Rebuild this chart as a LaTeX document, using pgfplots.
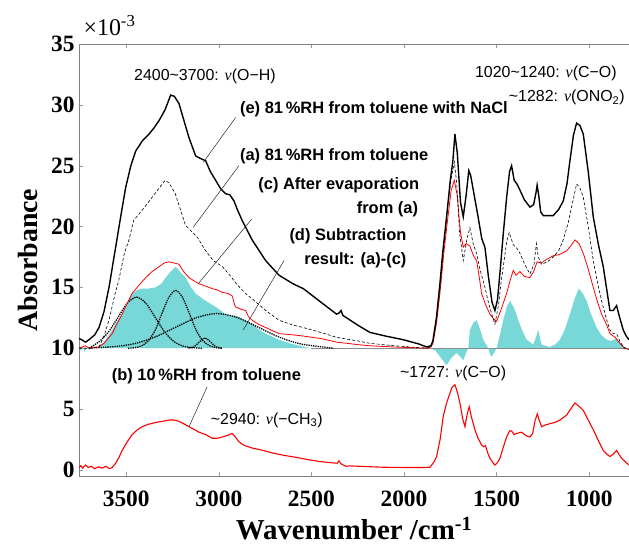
\documentclass[border=0pt]{standalone}
\usepackage{fontspec}
\setmainfont{Liberation Serif}
\newfontfamily\arial{Liberation Sans}
\usepackage{pgfplots}
\pgfplotsset{compat=1.18}
\definecolor{subcyan}{RGB}{120,216,216}
\newcommand{\nuv}{{\rmfamily\itshape ν}}

\begin{document}
\begin{tikzpicture}[
  annot/.style={font=\arial\fontsize{16}{18}\selectfont, inner sep=0pt},
  bannot/.style={font=\arial\fontsize{16.5}{18}\selectfont\bfseries, inner sep=0pt},
  leader/.style={black!85, line width=0.5pt},
]
\begin{axis}[
  scale only axis,
  width=550bp, height=432bp,
  x dir=reverse,
  xmin=785, xmax=3755,
  ymin=-0.5, ymax=35,
  xtick={1000,1500,...,3500},
  ytick={0,5,...,35},
  /pgf/number format/1000 sep={},
  /pgf/number format/assume math mode=true,
  axis x line*=box, axis y line*=left,
  axis line style={-, black!50},
  tick align=inside,
  major tick length=4bp,
  tick style={black!40},
  ticklabel style={font=\fontsize{23.5}{25}\selectfont\bfseries},
  xticklabel style={yshift=-11bp},
  yticklabel style={xshift=-1bp},
  xlabel={Wavenumber /cm\textsuperscript{-1}},
  ylabel={Absorbance},
  xlabel style={font=\fontsize{29}{31}\selectfont\bfseries, at={(axis description cs:0.5,-0.148)}, anchor=base},
  ylabel style={font=\fontsize{28}{30}\selectfont\bfseries, at={(axis description cs:-0.093,0.5)}, anchor=center},
  clip mode=individual,
]

% (d) subtraction result (a)-(c), filled to baseline 10
\addplot[fill=subcyan, draw=none] coordinates {
(3755,10.0) (3745,9.8) (3735,10.1) (3725,9.7) (3715,10.0) (3700,9.9) (3680,10.0)
(3650,10.1) (3620,10.5) (3576,11.5) (3550,12.2) (3522,12.8) (3495,13.7) (3468,14.5)
(3440,14.8) (3414,14.9) (3380,14.9) (3341,15.0) (3310,15.3) (3287,15.8) (3260,16.3)
(3233,16.7) (3205,16.2) (3179,15.8) (3150,15.0) (3125,14.5) (3100,14.2) (3071,13.9)
(3040,13.6) (3017,13.4) (2990,13.1) (2963,12.8) (2930,12.7) (2909,12.7) (2870,12.4)
(2820,12.0) (2790,11.6) (2747,11.2) (2675,10.7) (2616,10.4) (2550,10.15) (2500,10.0)
(1860,10.0) (1830,9.8) (1800,9.2) (1770,8.6) (1745,9.2) (1716,9.6) (1695,9.3)
(1680,9.0) (1665,9.6) (1653,10.0) (1644,11.5) (1625,12.1) (1608,12.3) (1590,11.6)
(1572,10.7) (1545,10.0) (1535,9.5) (1527,9.3) (1515,9.6) (1500,10.0) (1480,11.2)
(1464,12.3) (1445,13.4) (1428,13.9) (1405,13.3) (1383,12.3) (1360,11.4) (1338,10.7)
(1302,10.3) (1285,11.0) (1275,11.5) (1265,10.8) (1257,10.3) (1212,10.1) (1185,10.3)
(1158,10.7) (1130,11.6) (1104,12.8) (1080,14.0) (1056,14.9) (1035,14.5) (1014,13.9)
(990,12.8) (960,11.7) (935,11.1) (906,10.7) (880,10.6) (852,10.8) (830,10.4)
(811,10.0) (785,10.0)
} -- cycle;
\addplot[black!45, line width=0.8pt] coordinates {(2500,10) (785,10)};

% fitted gaussian components
\addplot[black, densely dotted, line width=1.3pt, smooth] coordinates {
(3700,10.0) (3644,10.57) (3594,11.37) (3544,12.55) (3494,13.7) (3444,14.2) (3394,13.7)
(3344,12.55) (3294,11.37) (3244,10.57) (3194,10.18) (3144,10.05) (3090,10.0)
};
\addplot[black, densely dotted, line width=1.3pt, smooth] coordinates {
(3490,10.0) (3453,10.05) (3416,10.2) (3379,10.64) (3343,11.5) (3306,12.9) (3269,14.2)
(3233,14.75) (3197,14.2) (3160,12.9) (3123,11.5) (3087,10.64) (3050,10.2) (3013,10.05) (2980,10.0)
};
\addplot[black, densely dotted, line width=1.3pt, smooth] coordinates {
(3165,10.01) (3135,10.11) (3105,10.52) (3075,10.85) (3045,10.52) (3015,10.11) (2985,10.01)
};
\addplot[black, densely dotted, line width=1.3pt, smooth] coordinates {
(3700,10.0) (3676,10.03) (3565,10.13) (3454,10.38) (3343,10.93) (3232,11.73) (3121,12.51)
(3010,12.85) (2899,12.51) (2788,11.73) (2677,10.93) (2566,10.38) (2455,10.13) (2380,10.0)
};

% (c) after evaporation from (a)
\addplot[red, line width=0.8pt] coordinates {
(3755,10.0) (3720,10.2) (3700,10.0) (3650,10.1) (3620,10.4) (3576,11.2) (3550,12.0)
(3522,12.8) (3495,13.7) (3468,14.5) (3430,15.2) (3395,15.8) (3360,16.3) (3323,16.7)
(3295,17.0) (3269,17.1) (3240,17.0) (3215,16.9) (3190,16.3) (3161,15.8) (3130,15.5)
(3107,15.3) (3070,15.1) (3036,14.9) (3010,14.8) (2982,14.6) (2950,14.5) (2928,14.3)
(2915,13.6) (2909,13.4) (2880,13.2) (2855,13.1) (2840,12.6) (2820,12.3) (2790,12.0)
(2747,11.7) (2675,11.2) (2600,11.1) (2544,11.0) (2450,10.8) (2364,10.5) (2250,10.3)
(2184,10.2) (2050,10.1) (1878,10.0) (1855,10.1) (1844,10.4) (1825,12.0) (1806,14.5)
(1785,17.8) (1765,20.5) (1745,23.0) (1728,23.8) (1712,22.5) (1695,19.5) (1680,18.3)
(1665,18.6) (1644,18.4) (1625,17.6) (1608,17.2) (1595,16.0) (1581,14.5) (1560,13.6)
(1536,12.8) (1515,12.4) (1500,12.2) (1475,13.2) (1446,14.5) (1430,15.4) (1410,16.4)
(1395,16.0) (1374,16.3) (1350,15.9) (1320,15.8) (1300,16.3) (1281,17.1) (1260,17.0)
(1230,17.3) (1194,17.6) (1160,17.7) (1122,18.0) (1095,18.5) (1077,18.9) (1055,18.6)
(1032,17.8) (1005,16.5) (978,15.0) (955,13.8) (933,12.8) (905,11.9) (888,11.2)
(860,10.9) (834,10.4) (810,10.0) (785,9.9)
};

% (a) 81 %RH from toluene
\addplot[black, densely dashed, line width=0.6pt] coordinates {
(3755,10.0) (3700,10.0) (3660,10.1) (3647,10.1) (3620,11.0) (3593,12.3) (3560,14.5)
(3540,15.6) (3510,17.8) (3485,18.9) (3460,20.5) (3400,21.6) (3345,22.7) (3290,23.8)
(3270,23.6) (3235,22.7) (3180,20.1) (3140,19.5) (3115,19.1) (3071,18.0) (3030,17.2)
(2980,16.7) (2963,16.4) (2930,15.8) (2900,15.2) (2855,14.5) (2800,13.8) (2747,13.1)
(2675,12.3) (2600,11.9) (2544,11.7) (2450,11.3) (2364,10.9) (2250,10.6) (2184,10.4)
(2050,10.2) (1878,10.0) (1855,10.1) (1844,10.5) (1825,12.3) (1806,15.0) (1785,18.5)
(1765,21.5) (1745,24.0) (1728,25.3) (1715,23.5) (1700,19.5) (1680,17.2) (1660,19.0)
(1644,19.9) (1625,18.5) (1608,17.8) (1590,16.5) (1563,15.0) (1540,13.5) (1520,12.5)
(1509,12.0) (1490,13.5) (1475,15.5) (1464,16.7) (1445,18.8) (1432,19.5) (1410,18.5)
(1390,18.2) (1374,17.8) (1345,16.8) (1320,16.1) (1298,16.9) (1285,18.6) (1275,17.5)
(1257,16.9) (1225,17.1) (1194,17.5) (1165,18.0) (1140,18.9) (1115,20.2) (1095,21.6)
(1068,23.5) (1050,23.2) (1032,22.4) (1005,20.0) (978,17.2) (955,15.4) (933,13.9)
(905,12.3) (888,11.5) (870,11.2) (852,11.2) (835,10.6) (816,10.1) (785,9.9)
};

% (e) 81 %RH from toluene with NaCl
\addplot[black, line width=1.4pt] coordinates {
(3755,10.8) (3741,10.7) (3720,10.5) (3701,10.7) (3670,11.1) (3647,11.7) (3620,13.0)
(3593,15.0) (3557,18.3) (3530,20.8) (3503,23.2) (3475,25.0) (3449,26.2) (3410,27.1)
(3377,27.6) (3350,28.1) (3323,28.7) (3290,29.6) (3260,30.8) (3240,30.7) (3215,30.1)
(3190,28.8) (3161,27.3) (3125,25.8) (3100,25.6) (3071,25.4) (3045,24.5) (3017,23.8)
(2990,23.1) (2963,22.7) (2940,22.6) (2918,22.1) (2900,21.4) (2874,20.5) (2820,18.9)
(2747,17.2) (2675,16.0) (2600,15.3) (2544,14.9) (2450,13.8) (2364,12.8) (2350,12.9)
(2340,13.1) (2330,12.7) (2250,11.9) (2184,11.3) (2100,11.0) (2004,10.7) (1920,10.35)
(1878,10.1) (1855,10.2) (1844,10.6) (1825,12.5) (1806,15.3) (1790,18.0) (1770,20.8)
(1750,23.8) (1736,25.4) (1725,27.6) (1712,26.0) (1695,22.0) (1680,20.8) (1665,22.5)
(1650,24.6) (1640,24.2) (1620,22.5) (1600,20.8) (1580,19.0) (1563,18.3) (1545,16.0)
(1525,13.8) (1509,13.1) (1495,14.0) (1480,16.5) (1464,19.4) (1445,22.5) (1430,24.5)
(1419,25.0) (1405,23.8) (1390,23.5) (1374,23.0) (1350,22.2) (1320,21.6) (1300,21.8)
(1287,22.8) (1281,23.4) (1272,22.5) (1262,21.2) (1248,20.9) (1220,20.9) (1194,20.9)
(1165,21.4) (1140,22.1) (1120,23.5) (1104,25.4) (1085,27.5) (1068,28.5) (1050,28.3)
(1032,27.6) (1005,24.5) (978,20.8) (950,18.5) (924,16.7) (905,14.8) (888,13.1)
(870,13.1) (852,13.5) (835,12.5) (816,11.5) (800,11.0) (785,10.7)
};

% (b) 10 %RH from toluene
\addplot[red, line width=1.1pt] coordinates {
(3755,0.2) (3745,0.35) (3735,0.15) (3720,0.4) (3705,0.2) (3690,0.3) (3670,0.1)
(3650,0.25) (3630,0.15) (3610,0.3) (3590,0.1) (3576,0.2) (3557,0.55) (3540,1.0)
(3522,1.6) (3495,2.3) (3468,2.9) (3440,3.3) (3414,3.55) (3380,3.75) (3341,3.9)
(3300,4.0) (3269,4.1) (3240,4.1) (3215,4.0) (3190,3.8) (3161,3.55) (3130,3.3)
(3107,3.1) (3070,2.9) (3036,2.6) (3010,2.6) (2982,2.7) (2950,2.85) (2928,3.0)
(2910,2.7) (2891,2.3) (2860,2.0) (2820,1.8) (2760,1.6) (2712,1.4) (2650,1.2)
(2585,1.04) (2520,0.85) (2459,0.7) (2400,0.6) (2360,0.55) (2351,0.75) (2340,0.5)
(2315,0.3) (2292,0.33) (2200,0.27) (2112,0.22) (2000,0.2) (1900,0.2) (1860,0.22)
(1840,0.6) (1824,1.1) (1805,2.5) (1788,4.4) (1770,5.5) (1752,6.3) (1740,6.8)
(1725,7.0) (1712,6.4) (1698,5.5) (1683,4.2) (1671,3.55) (1660,4.5) (1648,5.2)
(1635,4.3) (1617,3.3) (1600,2.6) (1581,2.05) (1570,1.9) (1560,2.0) (1548,1.4)
(1536,0.96) (1520,0.6) (1509,0.4) (1495,0.6) (1482,0.96) (1465,1.8) (1446,2.7)
(1430,3.2) (1419,3.2) (1405,2.9) (1392,3.0) (1365,3.1) (1340,2.8) (1320,2.7)
(1305,3.0) (1293,4.0) (1280,4.6) (1270,4.1) (1257,3.55) (1235,3.7) (1212,3.8)
(1185,3.9) (1158,4.1) (1140,4.3) (1122,4.5) (1100,5.0) (1077,5.5) (1060,5.3)
(1032,4.9) (1005,4.1) (978,3.3) (950,2.4) (924,1.6) (905,1.3) (888,1.1)
(870,1.3) (852,1.6) (840,1.3) (825,0.96) (800,0.6) (785,0.4)
};

% annotations
\node[annot] at (axis cs:3075,32.3) {2400\textasciitilde3700: \nuv(O−H)};
\node[annot] at (axis cs:1234,32.6) {1020\textasciitilde1240: \nuv(C−O)};
\node[annot, anchor=east] at (axis cs:807,30.6) {\textasciitilde1282: \nuv(ONO\textsubscript{2})};
\node[bannot, anchor=west] at (axis cs:2886,29.6) {(e) 81\,\%RH from toluene with NaCl};
\node[bannot, anchor=west] at (axis cs:2886,25.8) {(a) 81\,\%RH from toluene};
\node[bannot, anchor=west] at (axis cs:2787,23.4) {(c) After evaporation};
\node[bannot, anchor=east] at (axis cs:1923,21.4) {from (a)};
\node[bannot, anchor=east] at (axis cs:1986,19.2) {(d) Subtraction};
\node[bannot, anchor=east] at (axis cs:1986,17.2) {result: (a)-(c)};
\node[bannot] at (axis cs:3067,7.7) {(b) 10\,\%RH from toluene};
\node[annot, anchor=west] at (axis cs:3044,4.1) {\textasciitilde2940: \nuv(−CH\textsubscript{3})};
\node[annot, anchor=west] at (axis cs:2022,7.9) {\textasciitilde1727: \nuv(C−O)};

% leader lines
\draw[leader] (axis cs:2909,28.96) -- (axis cs:3084,25.27);
\draw[leader] (axis cs:2891,25.0) -- (axis cs:3138,19.94);
\draw[leader] (axis cs:2823,20.6) -- (axis cs:3111,15.3);
\draw[leader] (axis cs:2648,17.2) -- (axis cs:2868,11.5);
\draw[leader] (axis cs:3063,6.83) -- (axis cs:3161,3.55);

\node[anchor=base west, font=\fontsize{24}{26}\selectfont, inner sep=0pt]
  at (axis description cs:0.008,1.019) {×10\textsuperscript{-3}};
\end{axis}
\pgfresetboundingbox
\path ([shift={(-79bp,-79bp)}]current axis.south west) rectangle ([shift={(0bp,44bp)}]current axis.north east);
\end{tikzpicture}
\end{document}
